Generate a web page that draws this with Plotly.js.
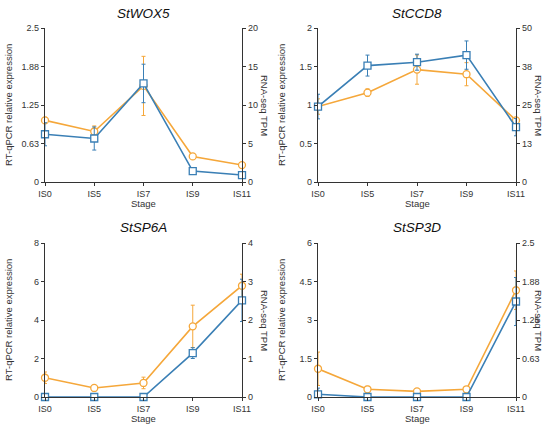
<!DOCTYPE html>
<html>
<head>
<meta charset="utf-8">
<script src="https://cdn.plot.ly/plotly-3.0.1.min.js"></script>
<style>html,body{margin:0;padding:0;background:#fff;}#chart{width:550px;height:428px;}</style>
</head>
<body>
<div id="chart"></div>
<script>
// Categories
const stages = ["IS0", "IS5", "IS7", "IS9", "IS11"];
const genes = ["StWOX5", "StCCD8", "StSP6A", "StSP3D"];

// RT-qPCR relative expression (left axis, orange circles)
const qpcrWOX5 = [1.0, 0.82, 1.56, 0.415, 0.275];
const qpcrWOX5Err = [0.05, 0.09, 0.48, 0.02, 0.02];
const qpcrCCD8 = [0.98, 1.16, 1.46, 1.40, 0.80];
const qpcrCCD8Err = [0.10, 0.05, 0.19, 0.15, 0.03];
const qpcrSP6A = [1.0, 0.47, 0.73, 3.67, 5.78];
const qpcrSP6AErr = [0.3, 0.05, 0.3, 1.1, 0.6];
const qpcrSP3D = [1.10, 0.30, 0.22, 0.30, 4.16];
const qpcrSP3DErr = [0.65, 0.12, 0.03, 0.03, 0.75];

// RNA-seq TPM (right axis, blue squares)
const tpmWOX5 = [6.2, 5.65, 12.8, 1.42, 0.9];
const tpmWOX5Err = [1.5, 1.5, 2.5, 0.1, 0.1];
const tpmCCD8 = [24.5, 37.8, 38.9, 41.2, 17.8];
const tpmCCD8Err = [4.0, 3.4, 2.6, 4.6, 2.8];
const tpmSP6A = [0, 0, 0, 1.14, 2.51];
const tpmSP6AErr = [0, 0, 0, 0.14, 0.55];
const tpmSP3D = [0.044, 0, 0, 0, 1.55];
const tpmSP3DErr = [0.1, 0, 0, 0, 0.39];

// Axis tick labels
const leftTickVals = [[0, 0.625, 1.25, 1.875, 2.5], [0, 0.5, 1, 1.5, 2], [0, 2, 4, 6, 8], [0, 1.5, 3, 4.5, 6]];
const leftTickText = [["0", "0.63", "1.25", "1.88", "2.5"], ["0", "0.5", "1", "1.5", "2"], ["0", "2", "4", "6", "8"], ["0", "1.5", "3", "4.5", "6"]];
const rightTickVals = [[0, 5, 10, 15, 20], [0, 12.5, 25, 37.5, 50], [0, 1, 2, 3, 4], [0, 0.625, 1.25, 1.875, 2.5]];
const rightTickText = [["0", "5", "10", "15", "20"], ["0", "13", "25", "38", "50"], ["0", "1", "2", "3", "4"], ["0", "0.63", "1.25", "1.88", "2.5"]];

const qpcr = [qpcrWOX5, qpcrCCD8, qpcrSP6A, qpcrSP3D];
const qpcrErr = [qpcrWOX5Err, qpcrCCD8Err, qpcrSP6AErr, qpcrSP3DErr];
const tpm = [tpmWOX5, tpmCCD8, tpmSP6A, tpmSP3D];
const tpmErr = [tpmWOX5Err, tpmCCD8Err, tpmSP6AErr, tpmSP3DErr];

const orange = "#f5a73a";
const blue = "#3a7fb5";
const axisColor = "#333333";
const W = 550, H = 428;

const xIdx = stages.map((s, i) => i);

// panel geometry (pixels)
const panels = [
  {x0: 45, x1: 242, y0: 28, y1: 182},
  {x0: 318, x1: 516, y0: 28, y1: 182},
  {x0: 45, x1: 242, y0: 243, y1: 397},
  {x0: 318, x1: 516, y0: 243, y1: 397}
];

const data = [];
const layout = {
  width: W, height: H,
  margin: {l: 0, r: 0, t: 0, b: 0},
  paper_bgcolor: "#fff", plot_bgcolor: "rgba(0,0,0,0)",
  showlegend: false,
  font: {family: "Liberation Sans, Arial, sans-serif", size: 9, color: axisColor},
  annotations: []
};

panels.forEach((p, i) => {
  const xn = i + 1;
  const yl = 2 * i + 1, yr = 2 * i + 2;
  const xKey = "xaxis" + (xn === 1 ? "" : xn);
  const ylKey = "yaxis" + (yl === 1 ? "" : yl);
  const yrKey = "yaxis" + yr;
  const xRef = "x" + (xn === 1 ? "" : xn);
  const ylRef = "y" + (yl === 1 ? "" : yl);
  const yrRef = "y" + yr;
  const xd = [p.x0 / W, p.x1 / W];
  const yd = [(H - p.y1) / H, (H - p.y0) / H];
  const lmax = leftTickVals[i][leftTickVals[i].length - 1];
  const rmax = rightTickVals[i][rightTickVals[i].length - 1];

  layout[xKey] = {
    domain: xd, anchor: ylRef, range: [0, 4], tickmode: "array",
    tickvals: xIdx, ticktext: stages, showgrid: false, zeroline: false,
    showline: true, linecolor: axisColor, linewidth: 1.2,
    ticks: "outside", ticklen: 3, tickcolor: axisColor, tickwidth: 1,
    tickfont: {size: 9, color: axisColor}, fixedrange: true
  };
  layout[ylKey] = {
    domain: yd, anchor: xRef, range: [0, lmax], tickmode: "array",
    tickvals: leftTickVals[i], ticktext: leftTickText[i], showgrid: false, zeroline: false,
    showline: true, linecolor: axisColor, linewidth: 1.2,
    ticks: "outside", ticklen: 3, tickcolor: axisColor, tickwidth: 1,
    tickfont: {size: 9, color: axisColor}, fixedrange: true
  };
  layout[yrKey] = {
    domain: yd, anchor: xRef, overlaying: ylRef, side: "right", range: [0, rmax], tickmode: "array",
    tickvals: rightTickVals[i], ticktext: rightTickText[i], showgrid: false, zeroline: false,
    showline: true, linecolor: axisColor, linewidth: 1.2,
    ticks: "outside", ticklen: 3, tickcolor: axisColor, tickwidth: 1,
    tickfont: {size: 9, color: axisColor}, fixedrange: true
  };

  data.push({
    type: "scatter", mode: "lines+markers", x: xIdx, y: qpcr[i],
    xaxis: xRef, yaxis: ylRef, cliponaxis: false,
    line: {color: orange, width: 1.6},
    marker: {symbol: "circle", size: 7, color: "#ffffff", line: {width: 1.3, color: orange}},
    error_y: {type: "data", array: qpcrErr[i], visible: true, color: orange, thickness: 1, width: 2}
  });
  data.push({
    type: "scatter", mode: "lines+markers", x: xIdx, y: tpm[i],
    xaxis: xRef, yaxis: yrRef, cliponaxis: false,
    line: {color: blue, width: 1.6},
    marker: {symbol: "square", size: 7, color: "#ffffff", line: {width: 1.3, color: blue}},
    error_y: {type: "data", array: tpmErr[i], visible: true, color: blue, thickness: 1, width: 2}
  });

  const cx = ((p.x0 + p.x1) / 2) / W;
  layout.annotations.push({
    text: genes[i], xref: "paper", yref: "paper", x: cx, y: (H - (p.y0 - 15)) / H,
    showarrow: false, font: {size: 13.5, color: "#111", family: "Liberation Sans, Arial, sans-serif", style: "italic"},
    xanchor: "center", yanchor: "middle"
  });
  layout.annotations.push({
    text: "Stage", xref: "paper", yref: "paper", x: cx, y: (H - (p.y1 + 21.5)) / H,
    showarrow: false, font: {size: 9.5, color: axisColor}, xanchor: "center", yanchor: "middle"
  });
  layout.annotations.push({
    text: "RT-qPCR relative expression", xref: "paper", yref: "paper",
    x: (p.x0 - 37) / W, y: (H - (p.y0 + p.y1) / 2) / H, textangle: -90,
    showarrow: false, font: {size: 9.5, color: axisColor}, xanchor: "center", yanchor: "middle"
  });
  layout.annotations.push({
    text: "RNA-seq TPM", xref: "paper", yref: "paper",
    x: (p.x1 + 23) / W, y: (H - (p.y0 + p.y1) / 2) / H, textangle: 90,
    showarrow: false, font: {size: 9.5, color: axisColor}, xanchor: "center", yanchor: "middle"
  });
});

Plotly.newPlot("chart", data, layout, {staticPlot: true, displayModeBar: false});
</script>
</body>
</html>
